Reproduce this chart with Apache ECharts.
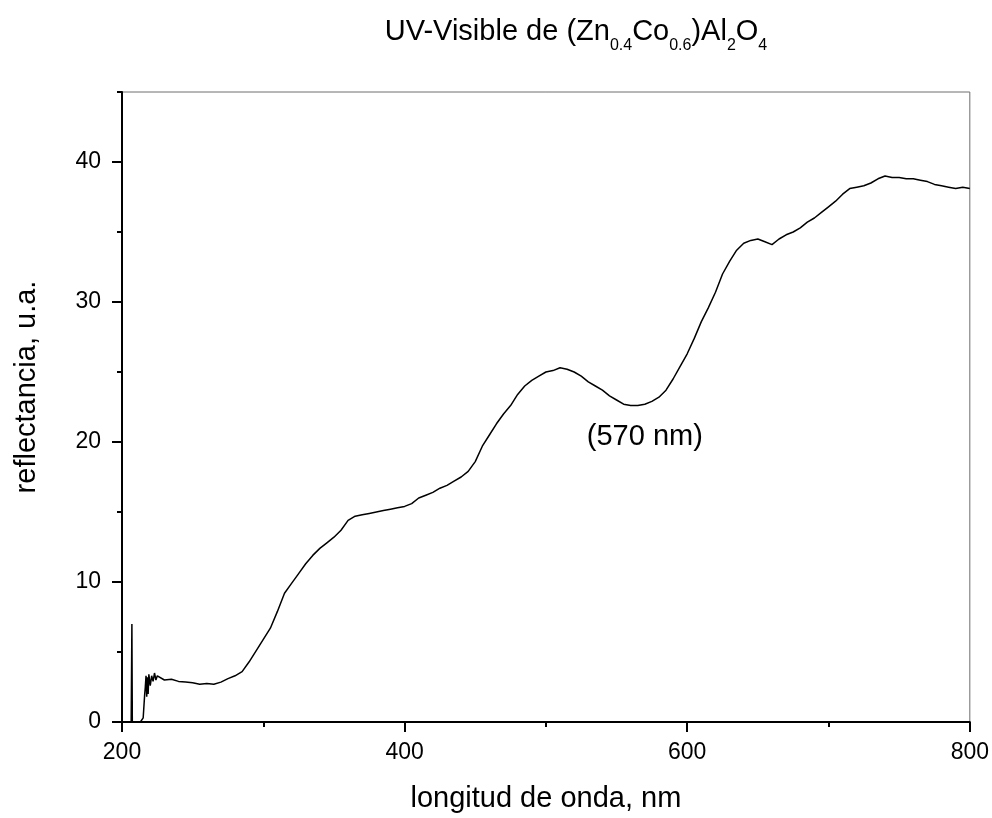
<!DOCTYPE html>
<html>
<head>
<meta charset="utf-8">
<script src="https://cdn.jsdelivr.net/npm/echarts@6/dist/echarts.min.js"></script>
<style>
html,body{margin:0;padding:0;background:#fff;}
#chart{width:992px;height:818px;}
</style>
</head>
<body>
<div id="chart"></div>
<script>
// Wavelength (nm) and reflectance (a.u.)
const wavelengths = [206.5,207,207.3,213,215,216,216.5,217,217.5,218,218.5,219,220,221,222,223,224,
  225,230,235,240,245,250,255,260,265,270,275,280,285,290,295,300,305,310,315,320,325,330,335,340,345,350,355,360,365,370,375,380,385,390,395,400,
  405,410,415,420,425,430,435,440,445,450,455,460,465,470,475,480,485,490,495,500,505,510,515,520,525,530,535,540,545,550,555,560,565,570,575,580,585,590,595,600,
  605,610,615,620,625,630,635,640,645,650,655,660,665,670,675,680,685,690,695,700,705,710,715,720,725,730,735,740,745,750,755,760,765,770,775,780,785,790,795,800];
const reflectance = [0,7.0,0,0,0.3,1.9,2.5,3.3,1.8,3.2,2.0,3.4,2.6,3.3,2.9,3.5,3.0,
  3.3,3.0,3.05,2.9,2.85,2.8,2.7,2.75,2.7,2.85,3.1,3.3,3.6,4.3,5.1,5.9,6.7,7.9,9.2,9.9,10.6,11.3,11.9,12.4,12.8,13.2,13.7,14.4,14.7,14.8,14.9,15.0,15.1,15.2,15.3,15.4,
  15.6,16.0,16.2,16.4,16.7,16.9,17.2,17.5,17.9,18.6,19.7,20.5,21.3,22.0,22.6,23.4,24.0,24.4,24.7,25.0,25.1,25.3,25.2,25.0,24.7,24.3,24.0,23.7,23.3,23.0,22.7,22.6,22.6,22.7,22.9,23.2,23.7,24.5,25.4,26.3,
  27.4,28.6,29.6,30.7,32.0,32.9,33.7,34.2,34.4,34.5,34.3,34.1,34.5,34.8,35.0,35.3,35.7,36.0,36.4,36.8,37.2,37.7,38.1,38.2,38.3,38.5,38.8,39.0,38.9,38.9,38.8,38.8,38.7,38.6,38.4,38.3,38.2,38.1,38.2,38.1];
const xTicks = [200,400,600,800];
const yTicks = [0,10,20,30,40];
const yMinorTicks = [5,15,25,35,45];
const annotation = {x: 570, y: 20.35, text: '(570 nm)'};

const chart = echarts.init(document.getElementById('chart'), null, {renderer:'canvas'});
const FONT = '"Liberation Sans", Arial, sans-serif';
const seriesData = wavelengths.map((w,i)=>[w, reflectance[i]]);

chart.setOption({
  animation:false,
  backgroundColor:'#fff',
  title:{
    text:'{m|UV-Visible de (Zn}{s|0.4}{m|Co}{s|0.6}{m|)Al}{s|2}{m|O}{s|4}',
    left:571, top:12, textAlign:'center',
    textStyle:{
      fontWeight:'normal',
      rich:{
        m:{fontFamily:FONT,fontSize:29,fontWeight:'normal',color:'#000',lineHeight:30,verticalAlign:'top'},
        s:{fontFamily:FONT,fontSize:16,fontWeight:'normal',color:'#000',lineHeight:37,verticalAlign:'bottom'}
      }
    }
  },
  graphic:[{
    type:'text', x:27, y:387, rotation:Math.PI/2,
    style:{text:'reflectancia, u.a.', fontFamily:FONT, fontSize:29, fill:'#000',
      align:'center', verticalAlign:'middle', textAlign:'center', textVerticalAlign:'middle'}
  }],
  grid:{left:122,right:21,top:92,bottom:91,show:true,borderColor:'#6e6e6e',borderWidth:1,containLabel:false},
  xAxis:{
    type:'value',min:200,max:800,interval:200,
    name:'longitud de onda, nm',nameLocation:'middle',nameGap:62,
    nameTextStyle:{fontFamily:FONT,fontSize:29,color:'#000'},
    axisLine:{show:true,onZero:false,lineStyle:{color:'#000',width:2}},
    axisTick:{show:true,inside:false,length:10,lineStyle:{color:'#000',width:2}},
    minorTick:{show:true,splitNumber:2,length:5,lineStyle:{color:'#000',width:2}},
    axisLabel:{fontFamily:FONT,fontSize:23,color:'#000',margin:19,
      formatter:v=>xTicks.includes(v)?String(v):''},
    splitLine:{show:false}
  },
  yAxis:[{
    type:'value',min:0,max:45,interval:10,
    axisLine:{show:true,onZero:false,lineStyle:{color:'#000',width:2}},
    axisTick:{show:true,inside:false,length:10,customValues:yTicks,lineStyle:{color:'#000',width:2}},
    axisLabel:{fontFamily:FONT,fontSize:23,color:'#000',margin:21,customValues:yTicks,
      formatter:v=>yTicks.includes(v)?String(v):''},
    splitLine:{show:false}
  },{
    type:'value',min:0,max:45,interval:5,position:'left',
    axisLine:{show:false},
    axisTick:{show:true,inside:false,length:5,customValues:yMinorTicks,lineStyle:{color:'#000',width:2}},
    axisLabel:{show:false},
    splitLine:{show:false}
  }],
  series:[{
    type:'line',data:seriesData,showSymbol:false,symbol:'none',yAxisIndex:0,
    lineStyle:{color:'#000',width:1.5},
    markPoint:{
      symbol:'rect',symbolSize:0,
      label:{show:true,formatter:annotation.text,fontFamily:FONT,fontSize:29,color:'#000',offset:[0,0]},
      data:[{coord:[annotation.x,annotation.y]}]
    }
  }]
});
</script>
</body>
</html>
